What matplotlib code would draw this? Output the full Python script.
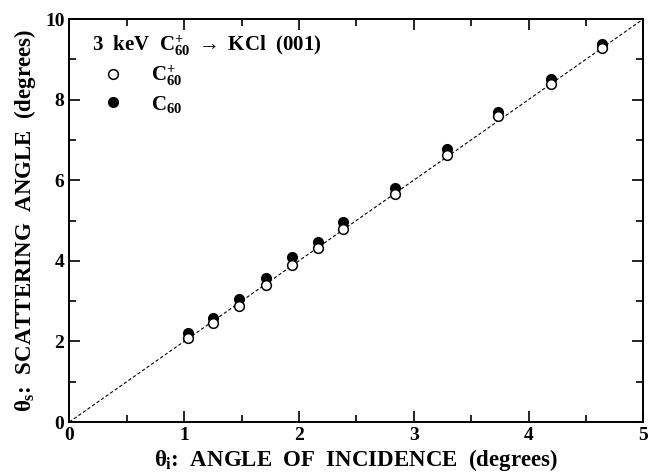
import numpy as np
import matplotlib
matplotlib.use("Agg")
from matplotlib import pyplot as plt
from matplotlib.ticker import MultipleLocator

plt.rcParams['font.family'] = ['Liberation Serif', 'DejaVu Serif']
plt.rcParams['font.weight'] = 'bold'
plt.rcParams['mathtext.fontset'] = 'custom'
plt.rcParams['mathtext.rm'] = 'Liberation Serif:bold'
plt.rcParams['mathtext.it'] = 'Liberation Serif'
plt.rcParams['mathtext.bf'] = 'Liberation Serif:bold'

# datos
theta_i = [1.037, 1.254, 1.481, 1.711, 1.937, 2.164, 2.387, 2.837, 3.287, 3.737, 4.193, 4.643]
theta_s_ion = [2.08, 2.45, 2.88, 3.40, 3.90, 4.31, 4.78, 5.67, 6.63, 7.60, 8.39, 9.28]
theta_s_neutral = [2.20, 2.59, 3.05, 3.58, 4.09, 4.47, 4.97, 5.81, 6.77, 7.70, 8.50, 9.38]
line_x = [0, 5]
line_y = [0, 10]

fig = plt.figure(figsize=(6.52, 4.72), dpi=100)
ax = fig.add_axes([0.1063, 0.1059, 0.8804, 0.8538])

ax.plot(line_x, line_y, color='black', lw=0.8, ls=(0, (3, 2)))
ax.plot(theta_i, theta_s_neutral, 'o', color='black', ms=7, mec='black', label=r'$\mathrm{C}_{60}$', zorder=3)
ax.plot(theta_i, theta_s_ion, 'o', color='black', mfc='white', ms=7, mew=1.1, label=r'$\mathrm{C}_{60}^{+}$', zorder=4)

ax.set_xlim(0, 5)
ax.set_ylim(0, 10)
ax.xaxis.set_major_locator(MultipleLocator(1))
ax.xaxis.set_minor_locator(MultipleLocator(0.5))
ax.yaxis.set_major_locator(MultipleLocator(2))
ax.yaxis.set_minor_locator(MultipleLocator(1))
ax.tick_params(which='both', direction='in', top=True, right=True, width=1.2, labelsize=14)
ax.tick_params(which='major', length=8)
ax.tick_params(which='minor', length=5)
for s in ax.spines.values():
    s.set_linewidth(1.4)

ax.set_xlabel(r'$\theta_\mathrm{i}$:  ANGLE  OF  INCIDENCE  (degrees)', fontsize=16.5, fontweight='bold', labelpad=2)
ax.set_ylabel(r'$\theta_\mathrm{s}$:  SCATTERING  ANGLE  (degrees)', fontsize=16.5, fontweight='bold', labelpad=5)

ax.text(0.04, 0.935, r'3  keV  $\mathrm{C}_{60}^{+}$ $\rightarrow$ KCl  (001)', transform=ax.transAxes,
        fontsize=15, fontweight='bold', va='center', ha='left')

h, l = ax.get_legend_handles_labels()
ax.legend(h[::-1], l[::-1], loc='upper left', bbox_to_anchor=(0.04, 0.91), frameon=False,
          fontsize=15, handletextpad=1.2, labelspacing=0.25, borderaxespad=0, handlelength=1.2)

fig.savefig('out.png', dpi=100)
